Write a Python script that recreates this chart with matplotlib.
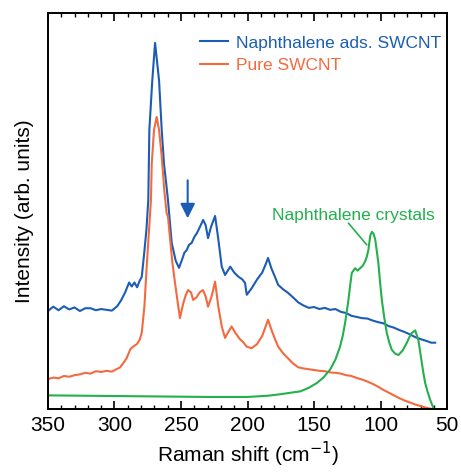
import numpy as np
import matplotlib.pyplot as plt

plt.rcParams['font.family'] = ['Liberation Sans', 'DejaVu Sans']

# Raman shift (cm-1) and intensities (arb. units, 0..100 frame)
x_ads = [350, 346, 342, 338, 334, 330, 326, 322, 318, 314, 310, 306, 302, 298, 295, 292, 289,
         287, 285, 283, 281, 279.5, 277.5, 276, 274.6, 273.8, 271.6, 269.5, 266.5, 264.5,
         262.8, 260.8, 259.8, 257, 254, 251.5, 249, 247.5, 245.7, 244, 242, 240, 238, 235.7,
         233.4, 231.5, 229.7, 227.5, 224.4, 222, 219.4, 216.9, 213, 210, 207, 204, 201.9,
         200.6, 197, 193, 189, 186.5, 184.6, 182, 179.5, 177, 173, 170, 166, 162, 158, 154,
         150, 146, 142, 138, 134, 130, 126, 122, 118, 114, 110, 106, 102, 98, 94, 90, 86, 82,
         78, 74, 70, 66, 62, 59]
y_ads = [24.8, 25.9, 25.0, 26.0, 25.2, 25.7, 24.8, 25.5, 25.5, 25.0, 25.3, 25.1, 24.9, 26.0,
         27.5, 29.5, 32.0, 31.0, 32.0, 30.8, 32.5, 33.4, 40.0, 45.3, 52.8, 70.5, 83.0, 92.5,
         83.0, 70.5, 62.0, 56.0, 52.8, 42.0, 37.5, 35.7, 38.0, 39.5, 40.2, 41.5, 42.0, 43.5,
         44.5, 46.1, 47.8, 46.5, 43.2, 46.0, 48.8, 43.0, 36.0, 33.9, 36.0, 34.5, 33.5, 32.8,
         31.9, 28.9, 30.5, 32.7, 34.5, 36.5, 38.2, 35.5, 33.5, 31.4, 30.2, 29.5, 28.3, 27.0,
         26.2, 25.6, 25.8, 25.3, 25.6, 25.1, 25.3, 24.6, 24.3, 23.6, 23.3, 23.0, 22.9, 22.4,
         22.0, 21.7, 21.0, 20.6, 20.0, 19.5, 18.9, 18.2, 17.7, 17.3, 16.8, 16.8]

x_pure = [350, 346, 342, 338, 334, 330, 326, 322, 318, 314, 310, 306, 302, 298, 296, 293,
          291, 288, 286, 283, 281, 279.5, 277.5, 275.8, 272.6, 272, 270.3, 268.3, 266.5,
          264.5, 262.5, 260.8, 259.8, 258.5, 256.5, 254.5, 252.5, 250.8, 248.5, 246.5, 244.7,
          242.5, 240.9, 238.5, 236, 233.5, 231.5, 229.7, 227, 224.4, 222, 219.4, 216.9, 214.5,
          212, 209, 206, 203, 200.6, 197, 193, 189, 186.5, 184.6, 182, 179.5, 177, 173, 170,
          166, 162, 158, 154, 150, 146, 142, 138, 134, 130, 126, 122, 118, 114, 110, 106, 102,
          98, 94, 90, 86, 82, 78, 74, 70, 66, 62, 59]
y_pure = [7.6, 8.0, 7.8, 8.4, 8.2, 8.6, 8.8, 9.2, 9.0, 9.6, 9.4, 9.7, 9.5, 10.2, 10.5, 11.8,
          12.8, 15.2, 15.8, 16.5, 17.6, 19.3, 26.0, 36.0, 52.8, 62.0, 70.5, 73.8, 70.5, 63.8,
          55.0, 49.5, 48.6, 44.0, 37.0, 31.9, 27.0, 23.0, 26.5, 28.8, 30.1, 29.5, 27.6, 28.2,
          29.5, 30.1, 28.5, 25.9, 28.5, 32.2, 26.0, 20.9, 18.0, 19.5, 20.9, 19.2, 17.8, 16.8,
          15.8, 15.4, 16.4, 18.5, 20.8, 22.6, 20.0, 17.8, 15.8, 14.0, 13.0, 11.6, 10.6, 10.3,
          10.1, 9.9, 9.7, 9.6, 9.3, 9.2, 9.0, 8.6, 8.4, 7.9, 7.5, 7.0, 6.4, 5.7, 4.9, 4.2, 3.5,
          2.8, 2.2, 1.7, 1.2, 0.8, 0.4, 0.1, 0.0]

x_cry = [350, 320, 290, 260, 230, 200, 185, 175, 167, 160.5, 154, 148, 143, 138, 134, 130.5,
         128.5, 126.7, 125.5, 124.2, 123, 121.7, 119.2, 117.3, 115.4, 113.5, 111.7, 110.4,
         109.2, 107.8, 106.6, 105.3, 104.1, 102.9, 101.7, 100.4, 99.1, 97.3, 95.4, 93.5, 91.6,
         89, 86.6, 83.5, 80.3, 78.4, 76.5, 74, 71.6, 70.3, 69, 67.8, 66.5, 64.6, 62.8, 61.4,
         60, 58.5]
y_cry = [3.5, 3.4, 3.3, 3.2, 3.1, 3.1, 3.4, 3.8, 4.2, 4.5, 5.4, 6.6, 8.0, 10.0, 12.5, 15.8,
         18.5, 21.8, 24.5, 27.6, 31.0, 34.4, 35.6, 35.0, 35.6, 36.2, 37.3, 38.5, 40.2, 43.8,
         44.8, 44.3, 42.9, 40.0, 36.9, 32.0, 27.6, 23.2, 19.3, 16.8, 15.0, 14.0, 13.7, 14.8,
         16.8, 18.2, 19.3, 19.9, 17.4, 14.5, 11.6, 9.0, 6.6, 4.3, 2.4, 1.2, 0.0, -1.0]

blue = '#1b5db4'
orange = '#f46a3e'
green = '#23b04d'

fig = plt.figure(figsize=(4.61, 4.72), dpi=100)
ax = fig.add_axes([0.104, 0.133, 0.866, 0.839])

ax.plot(x_ads, y_ads, color=blue, lw=1.5, label='Naphthalene ads. SWCNT')
ax.plot(x_pure, y_pure, color=orange, lw=1.5, label='Pure SWCNT')
ax.plot(x_cry, y_cry, color=green, lw=1.5)

ax.set_xlim(350, 50)
ax.set_ylim(0, 100)
ax.set_xticks(np.arange(50, 351, 50))
ax.set_xticks(np.arange(50, 351, 10), minor=True)
ax.set_yticks([])
ax.tick_params(axis='x', which='both', direction='in', top=True, labelsize=15, pad=5)
ax.tick_params(axis='x', which='major', length=6, width=1.2)
ax.tick_params(axis='x', which='minor', length=3, width=1.0)
for sp in ax.spines.values():
    sp.set_linewidth(1.4)

ax.set_xlabel('Raman shift (cm$^{-1}$)', fontsize=15, labelpad=3)
ax.set_ylabel('Intensity (arb. units)', fontsize=15, labelpad=10)

leg = ax.legend(loc='upper left', frameon=False, fontsize=12.5, handlelength=1.6,
                handletextpad=0.45, labelspacing=0.4, borderaxespad=0, borderpad=0,
                bbox_to_anchor=(0.382, 0.944))
for txt, ln in zip(leg.get_texts(), leg.get_lines()):
    txt.set_color(ln.get_color())

# arrow marking the new feature
ax.annotate('', xy=(245, 47.5), xytext=(245, 58.5),
            arrowprops=dict(arrowstyle='-|>', color=blue, lw=1.5, mutation_scale=22))

# label for the crystal spectrum
ax.text(120.8, 49.0, 'Naphthalene crystals', color=green, fontsize=12.5,
        ha='center', va='center')
ax.annotate('', xy=(110.4, 41.5), xytext=(124.2, 47.0),
            arrowprops=dict(arrowstyle='-', color=green, lw=1.2, shrinkA=0, shrinkB=0))

fig.savefig('out.png', dpi=100)
